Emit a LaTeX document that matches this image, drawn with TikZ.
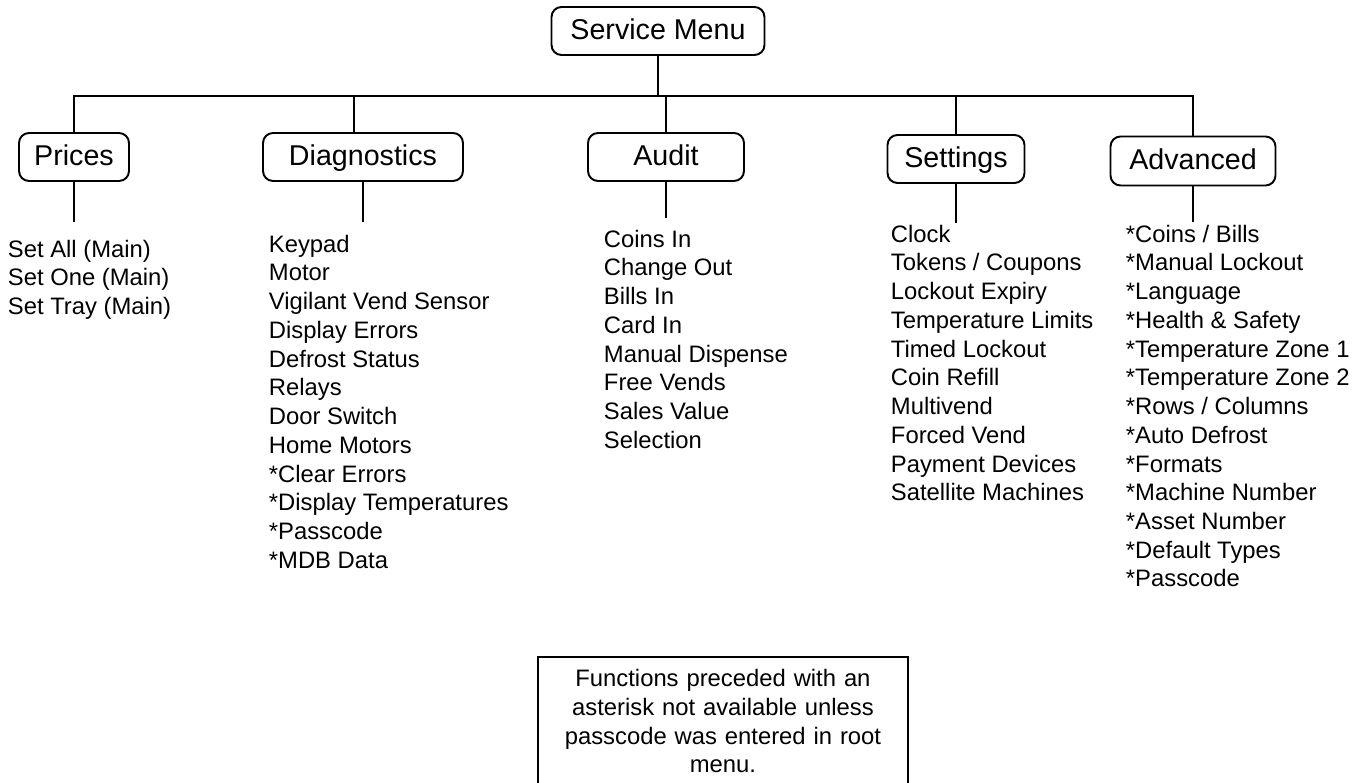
\documentclass[tikz,border=0pt]{standalone}
\usepackage{fontspec}
\setmainfont{Liberation Sans}
\usetikzlibrary{fit}

\tikzset{
  menubox/.style={draw, rounded corners=0.2cm, minimum height=0.96cm, inner sep=0pt,
    text height=12.5pt, text depth=2.6pt, font=\fontsize{16.3}{19}\selectfont},
  itemlist/.style={anchor=north west, align=left, inner sep=0pt,
    font=\fontsize{13.55}{16.35}\selectfont},
  notetext/.style={anchor=north, align=center, text width=6.96cm, inner xsep=0.2cm,
    inner ysep=0.23cm, font=\fontsize{13.55}{16.35}\selectfont}
}

\begin{document}
\begin{tikzpicture}[x=0.02cm, y=-0.02cm, line width=1.1pt]
	\useasboundingbox (0,0) rectangle (1357,783);
	% menu boxes
	\node[menubox, minimum width=4.26cm] (smenu) at (658,31) {Service Menu};
	\node[menubox, minimum width=2.2cm] (prices) at (74,157) {Prices};
	\node[menubox, minimum width=4.0cm] (diag) at (363,157) {Diagnostics};
	\node[menubox, minimum width=3.12cm] (audit) at (666,157) {Audit};
	\node[menubox, minimum width=2.74cm] (settings) at (956,159) {Settings};
	\node[menubox, minimum width=3.3cm, minimum height=0.98cm] (advanced) at (1193,161) {Advanced};
	% bus
	\coordinate (bus) at (0,96);
	\draw (smenu.south) -- (smenu.south |- bus);
	\draw (prices.north) |- (bus -| advanced.north) -- (advanced.north);
	\draw ([xshift=-0.18cm]diag.north) -- ([xshift=-0.18cm]diag.north |- bus);
	\draw (audit.north) -- (audit.north |- bus);
	\draw (settings.north) -- (settings.north |- bus);
	% stems
	\coordinate (pend) at (74,222);
	\coordinate (dend) at (363,222);
	\coordinate (aend) at (666,218);
	\coordinate (send) at (956,223);
	\coordinate (vend) at (1193,222);
	\draw (prices.south) -- (pend);
	\draw (diag.south) -- (dend);
	\draw (audit.south) -- (aend);
	\draw (settings.south) -- (send);
	\draw (advanced.south) -- (vend);
	% lists
	\node[itemlist] (plist) at (7,239) {Set All (Main)\\Set One (Main)\\Set Tray (Main)};
	\node[itemlist] (dlist) at (268,234) {Keypad\\Motor\\Vigilant Vend Sensor\\Display Errors\\Defrost Status\\Relays\\Door Switch\\Home Motors\\*Clear Errors\\*Display Temperatures\\*Passcode\\*MDB Data};
	\node[itemlist] (alist) at (603,229) {Coins In\\Change Out\\Bills In\\Card In\\Manual Dispense\\Free Vends\\Sales Value\\Selection};
	\node[itemlist] (slist) at (890,224) {Clock\\Tokens / Coupons\\Lockout Expiry\\Temperature Limits\\Timed Lockout\\Coin Refill\\Multivend\\Forced Vend\\Payment Devices\\Satellite Machines};
	\node[itemlist] (vlist) at (1125,224) {*Coins / Bills\\*Manual Lockout\\*Language\\*Health \& Safety\\*Temperature Zone 1\\*Temperature Zone 2\\*Rows / Columns\\*Auto Defrost\\*Formats\\*Machine Number\\*Asset Number\\*Default Types\\*Passcode};
	% note
	\node[notetext] (note) at (723,657) {Functions preceded with an\\asterisk not available unless\\passcode was entered in root\\menu.};
	\coordinate (notebot) at (723,800);
	\node[draw, fit=(note)(notebot), inner sep=0pt] (noteframe) {};
\end{tikzpicture}
\end{document}
